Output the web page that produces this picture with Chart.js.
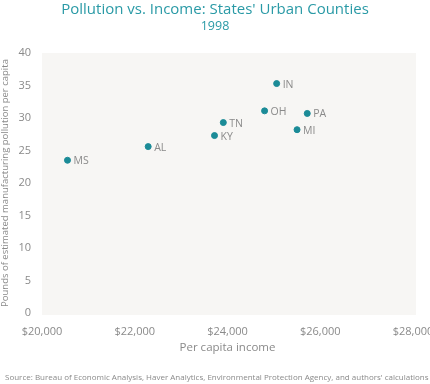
<!DOCTYPE html>
<html>
<head>
<meta charset="utf-8">
<script src="https://cdn.jsdelivr.net/npm/chart.js@4"></script>
<style>
  html, body { margin: 0; padding: 0; background: #fff; }
  #wrap { width: 430px; height: 384px; }
</style>
</head>
<body>
<div id="wrap"><canvas id="pollutionchart"></canvas></div>
<script>
// Data
var states = ['MS', 'AL', 'KY', 'TN', 'OH', 'IN', 'PA', 'MI'];
var income = [20550, 22290, 23720, 23910, 24800, 25060, 25720, 25500];
var pollution = [23.5, 25.6, 27.3, 29.3, 31.1, 35.3, 30.7, 28.2];

var teal = '#1b8b97';
var grey = '#8a8a8a';

var points = states.map(function (s, i) {
    return { x: income[i], y: pollution[i], label: s };
});

// Plot background, point labels and source line
var decor = {
    id: 'decor',
    beforeDraw: function (chart) {
        var a = chart.chartArea, c = chart.ctx;
        c.save();
        c.fillStyle = '#f7f6f4';
        c.fillRect(a.left, a.top, a.right - a.left + 3, a.bottom - a.top + 2);
        c.restore();
    },
    afterDatasetsDraw: function (chart) {
        var c = chart.ctx;
        var meta = chart.getDatasetMeta(0);
        c.save();
        c.font = '10.5px "Open Sans"';
        c.fillStyle = grey;
        c.textBaseline = 'middle';
        meta.data.forEach(function (pt, i) {
            c.fillText(states[i], pt.x + 6, pt.y + 1);
        });
        c.font = '8px "Open Sans"';
        c.fillText('Source: Bureau of Economic Analysis, Haver Analytics, Environmental Protection Agency, and authors\' calculations', 5, 378);
        c.restore();
    }
};

var ctx = document.getElementById('pollutionchart').getContext('2d');

var pollutionchart = new Chart(ctx, {
    type: 'scatter',
    data: {
        datasets: [{
            data: points,
            backgroundColor: teal,
            borderColor: teal,
            pointRadius: 3,
            pointHoverRadius: 3
        }]
    },
    plugins: [decor],
    options: {
        responsive: true,
        maintainAspectRatio: false,
        animation: false,
        layout: { padding: { left: 0, right: 0, top: 0, bottom: 29 } },
        plugins: {
            legend: { display: false },
            tooltip: { enabled: false },
            title: {
                display: true,
                text: 'Pollution vs. Income: States\' Urban Counties',
                color: '#2a9aa6',
                font: { family: 'Open Sans', size: 15, weight: 'normal' },
                padding: { top: 1, bottom: 0 }
            },
            subtitle: {
                display: true,
                text: '1998',
                color: '#2a9aa6',
                font: { family: 'Open Sans', size: 12.5, weight: 'normal' },
                padding: { top: 0, bottom: 19 }
            }
        },
        scales: {
            x: {
                type: 'linear',
                min: 20000,
                max: 28000,
                grid: { display: false, drawTicks: false },
                border: { display: false },
                afterFit: function (s) { s.paddingRight = 17; },
                ticks: {
                    stepSize: 2000,
                    color: grey,
                    padding: 12,
                    font: { family: 'Open Sans', size: 11 },
                    callback: function (v) { return '$' + v.toLocaleString('en-US'); }
                },
                title: {
                    display: true,
                    text: 'Per capita income',
                    color: grey,
                    font: { family: 'Open Sans', size: 11.5 },
                    padding: { top: -9, bottom: 0 }
                }
            },
            y: {
                min: 0,
                max: 40,
                grid: { display: false, drawTicks: false },
                border: { display: false },
                ticks: {
                    stepSize: 5,
                    color: grey,
                    padding: 11,
                    font: { family: 'Open Sans', size: 11 }
                },
                title: {
                    display: true,
                    text: 'Pounds of estimated manufacturing pollution per capita',
                    color: grey,
                    font: { family: 'Open Sans', size: 9.5 },
                    padding: { top: 0, bottom: -4 }
                }
            }
        }
    }
});
</script>
</body>
</html>
